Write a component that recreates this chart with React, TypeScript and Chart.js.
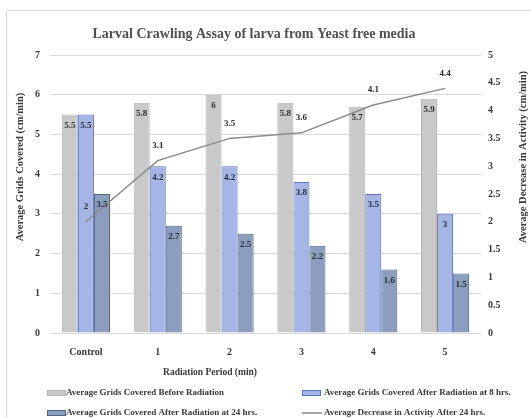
import React, { useEffect, useRef } from "react";
import { Chart, registerables } from "chart.js";

Chart.register(...registerables);

const categories = ["Control", "1", "2", "3", "4", "5"];
const beforeRadiation = [5.5, 5.8, 6, 5.8, 5.7, 5.9];
const after8hrs = [5.5, 4.2, 4.2, 3.8, 3.5, 3];
const after24hrs = [3.5, 2.7, 2.5, 2.2, 1.6, 1.5];
const decreaseAfter24 = [2, 3.1, 3.5, 3.6, 4.1, 4.4];

const seriesNames = [
  "Average Grids Covered Before Radiation",
  "Average Grids Covered After Radiation at 8 hrs.",
  "Average Grids Covered After Radiation at 24 hrs.",
  "Average Decrease in Activity After 24 hrs.",
];

const FONT = "'Liberation Serif', 'Times New Roman', serif";
const TEXT = "#3a3a3a";

const GRAY = "#c9c9c9";
const GRAY_BORDER = "#b5b5b5";
const BLUE = "#a5b5e6";
const BLUE_BORDER = "#5a72bf";
const DARK = "#8c9ebd";
const DARK_BORDER = "#4f6589";
const LINE = "#8a8a8a";

const decorPlugin = {
  id: "decor",
  beforeDraw(chart: any) {
    const c = chart.ctx;
    c.save();
    c.fillStyle = "#ffffff";
    c.fillRect(0, 0, chart.width, chart.height);
    c.strokeStyle = "#d9d9d9";
    c.lineWidth = 1;
    c.beginPath();
    c.moveTo(6.5, chart.height + 2);
    c.lineTo(6.5, 10.5);
    c.lineTo(chart.width + 2, 10.5);
    c.stroke();
    c.restore();
  },
  afterDraw(chart: any) {
    const c = chart.ctx;
    c.save();
    c.fillStyle = "#505050";
    c.textAlign = "center";
    c.textBaseline = "middle";
    c.font = `bold 14px ${FONT}`;
    c.fillText("Larval Crawling Assay of larva from Yeast free media", 254, 34);

    // axis titles
    c.fillStyle = TEXT;
    c.font = `bold 10.5px ${FONT}`;
    c.save();
    c.translate(20, 167);
    c.rotate(-Math.PI / 2);
    c.fillText("Average Grids Covered (cm/min)", 0, 0);
    c.restore();
    c.save();
    c.translate(523, 157);
    c.rotate(-Math.PI / 2);
    c.fillText("Average Decrease in Activity (cm/min)", 0, 0);
    c.restore();
    c.font = `bold 9.5px ${FONT}`;
    c.fillText("Radiation Period (min)", 210, 373);

    // value labels: bars are datasets 1..3, the line is dataset 0
    c.font = `bold 9px ${FONT}`;
    c.fillStyle = "#2e2e2e";
    const series = [beforeRadiation, after8hrs, after24hrs];
    series.forEach((vals, k) => {
      const meta = chart.getDatasetMeta(k + 1);
      meta.data.forEach((el: any, i: number) => {
        c.fillText(String(vals[i]), el.x, el.y + 11);
      });
    });
    const lineMeta = chart.getDatasetMeta(0);
    lineMeta.data.forEach((el: any, i: number) => {
      c.fillText(String(decreaseAfter24[i]), el.x, el.y - 15);
    });

    // legend
    c.textAlign = "left";
    c.font = `bold 9px ${FONT}`;
    const drawBox = (x: number, y: number, fill: string, border: string) => {
      c.fillStyle = fill;
      c.fillRect(x, y - 2, 19, 4);
      c.strokeStyle = border;
      c.lineWidth = 1;
      c.strokeRect(x + 0.5, y - 2.5, 18, 5);
    };
    drawBox(47, 393, GRAY, GRAY_BORDER);
    drawBox(302, 393, BLUE, BLUE_BORDER);
    drawBox(47, 413, DARK, DARK_BORDER);
    c.strokeStyle = LINE;
    c.lineWidth = 1.5;
    c.beginPath();
    c.moveTo(302, 413);
    c.lineTo(322, 413);
    c.stroke();
    c.fillStyle = TEXT;
    c.fillText(seriesNames[0], 66, 393);
    c.fillText(seriesNames[1], 324, 393);
    c.fillText(seriesNames[2], 66, 413);
    c.fillText(seriesNames[3], 324, 413);
    c.restore();
  },
};

export default function App() {
  const ref = useRef<HTMLCanvasElement | null>(null);

  useEffect(() => {
    if (!ref.current) return;
    const tickFont = { family: FONT, size: 10, weight: "bold" as const };
    const chart = new Chart(ref.current, {
      type: "bar",
      data: {
        labels: categories,
        datasets: [
          {
            type: "line",
            label: seriesNames[3],
            data: decreaseAfter24,
            yAxisID: "y1",
            borderColor: LINE,
            borderWidth: 1.5,
            pointRadius: 0,
            tension: 0,
            order: 0,
          } as any,
          {
            label: seriesNames[0],
            data: beforeRadiation,
            yAxisID: "y",
            backgroundColor: GRAY,
            borderColor: GRAY_BORDER,
            borderWidth: 1,
            order: 1,
          },
          {
            label: seriesNames[1],
            data: after8hrs,
            yAxisID: "y",
            backgroundColor: BLUE,
            borderColor: BLUE_BORDER,
            borderWidth: 1,
            order: 1,
          },
          {
            label: seriesNames[2],
            data: after24hrs,
            yAxisID: "y",
            backgroundColor: DARK,
            borderColor: DARK_BORDER,
            borderWidth: 1,
            order: 1,
          },
        ],
      },
      options: {
        responsive: false,
        animation: false,
        devicePixelRatio: 1,
        layout: { padding: { top: 55, left: 0, right: 0, bottom: 0 } },
        datasets: { bar: { categoryPercentage: 0.67, barPercentage: 1 } },
        plugins: { legend: { display: false }, title: { display: false }, tooltip: { enabled: false } },
        scales: {
          x: {
            grid: { display: false, drawTicks: false },
            border: { display: false },
            ticks: { font: tickFont, color: TEXT, padding: 13 },
            afterFit: (s: any) => {
              s.height = 85;
            },
          },
          y: {
            position: "left",
            min: 0,
            max: 7,
            ticks: { stepSize: 1, font: tickFont, color: TEXT, padding: 10 },
            grid: { color: "#d9d9d9", drawTicks: false },
            border: { display: false },
            afterFit: (s: any) => {
              s.width = 50;
            },
          },
          y1: {
            position: "right",
            min: 0,
            max: 5,
            ticks: {
              stepSize: 0.5,
              font: tickFont,
              color: TEXT,
              padding: 7,
              callback: (v: any) => String(Number(v)),
            },
            grid: { display: false, drawTicks: false },
            border: { display: false },
            afterFit: (s: any) => {
              s.width = 50;
            },
          },
        },
      },
      plugins: [decorPlugin],
    });
    return () => chart.destroy();
  }, []);

  return (
    <div style={{ position: "fixed", left: 0, top: 0, width: 531, height: 418, background: "#fff" }}>
      <canvas ref={ref} width={531} height={418} style={{ display: "block" }} />
    </div>
  );
}
